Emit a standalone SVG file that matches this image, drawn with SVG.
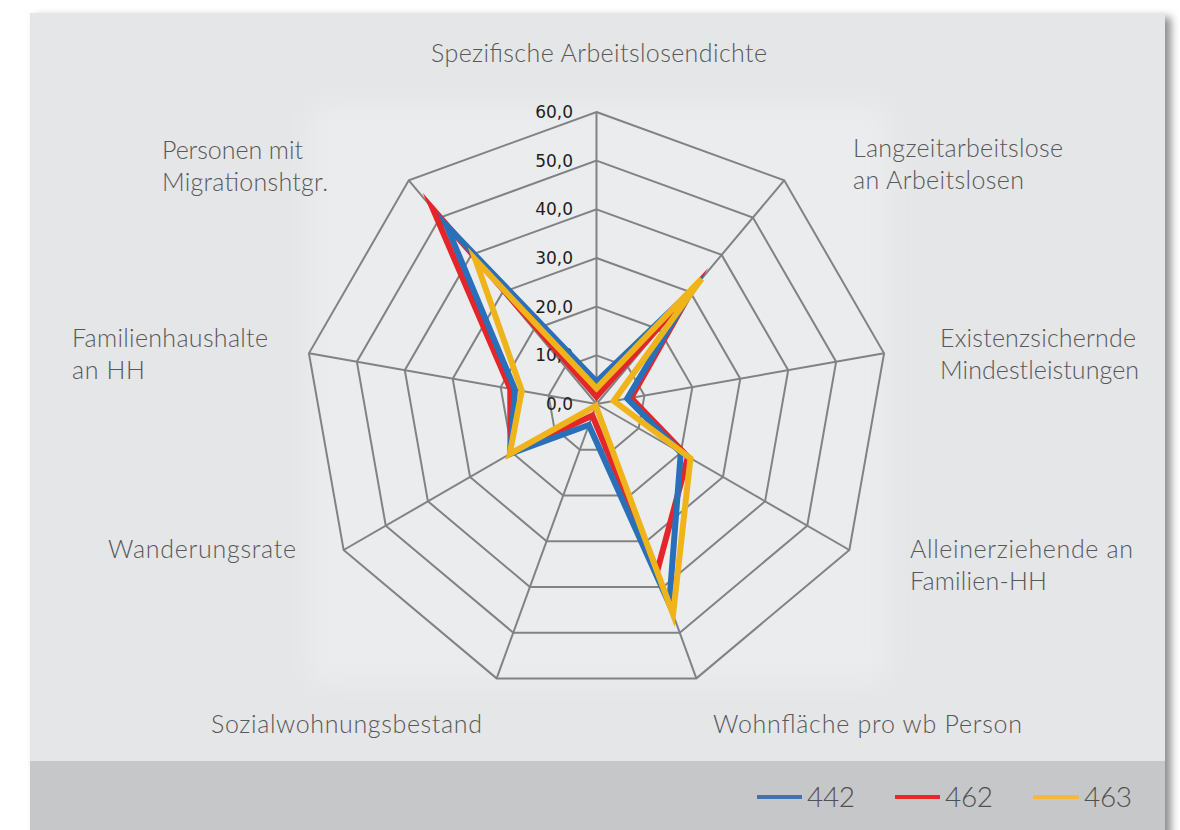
<svg xmlns="http://www.w3.org/2000/svg" width="1180" height="830" viewBox="0 0 1180 830">
<defs>
<filter id="shadow" x="-5%" y="-5%" width="115%" height="115%">
<feGaussianBlur in="SourceAlpha" stdDeviation="4"/>
<feOffset dx="6" dy="4" result="b"/>
<feComponentTransfer><feFuncA type="linear" slope="0.45"/></feComponentTransfer>
<feMerge><feMergeNode/><feMergeNode in="SourceGraphic"/></feMerge>
</filter>
<filter id="soft" x="-10%" y="-10%" width="120%" height="120%">
<feGaussianBlur stdDeviation="14"/>
</filter>
</defs>
<style>
.lbl{font-family:"Lato","Liberation Sans",sans-serif;font-weight:300;font-size:25px;fill:#585858}
.ax{font-family:"DejaVu Sans","Liberation Sans",sans-serif;font-size:17px;fill:#1e1e1e;text-anchor:end}
.ring{fill:none;stroke:#828282;stroke-width:2;stroke-linejoin:miter}
.spoke{stroke:#828282;stroke-width:2}
.ser{fill:none;stroke-width:6;stroke-linejoin:miter;stroke-miterlimit:10}
.leg{font-family:"Lato","Liberation Sans",sans-serif;font-weight:300;font-size:28px;fill:#505050}
</style>
<rect x="0" y="0" width="1180" height="830" fill="#ffffff"/>
<g id="panel">
<rect x="30" y="13" width="1135" height="830" fill="#e5e6e8" filter="url(#shadow)"/>
<rect x="310" y="105" width="578" height="578" fill="#eaecee" filter="url(#soft)"/>
<rect x="30" y="761" width="1135" height="69" fill="#c6c7c9"/>
</g>
<g id="grid" transform="translate(596.5,404)">
<polygon class="ring" points="0,-48.67 31.28,-37.28 47.93,-8.45 42.15,24.33 16.64,45.73 -16.64,45.73 -42.15,24.33 -47.93,-8.45 -31.28,-37.28"/>
<polygon class="ring" points="0,-97.33 62.57,-74.56 95.85,-16.90 84.29,48.67 33.29,91.46 -33.29,91.46 -84.29,48.67 -95.85,-16.90 -62.57,-74.56"/>
<polygon class="ring" points="0,-146 93.85,-111.84 143.78,-25.35 126.44,73 49.93,137.20 -49.93,137.20 -126.44,73 -143.78,-25.35 -93.85,-111.84"/>
<polygon class="ring" points="0,-194.67 125.13,-149.12 191.71,-33.79 168.58,97.33 66.58,182.93 -66.58,182.93 -168.58,97.33 -191.71,-33.79 -125.13,-149.12"/>
<polygon class="ring" points="0,-243.33 156.42,-186.39 239.63,-42.24 210.73,121.67 83.22,228.66 -83.22,228.66 -210.73,121.67 -239.63,-42.24 -156.42,-186.39"/>
<polygon class="ring" points="0,-292 187.70,-223.67 287.56,-50.69 252.87,146 99.86,274.39 -99.86,274.39 -252.87,146 -287.56,-50.69 -187.70,-223.67"/>
<g class="spoke">
<line x1="0" y1="0" x2="0" y2="-292"/>
<line x1="0" y1="0" x2="187.70" y2="-223.67"/>
<line x1="0" y1="0" x2="287.56" y2="-50.69"/>
<line x1="0" y1="0" x2="252.87" y2="146"/>
<line x1="0" y1="0" x2="99.86" y2="274.39"/>
<line x1="0" y1="0" x2="-99.86" y2="274.39"/>
<line x1="0" y1="0" x2="-252.87" y2="146"/>
<line x1="0" y1="0" x2="-287.56" y2="-50.69"/>
<line x1="0" y1="0" x2="-187.70" y2="-223.67"/>
</g>
</g>
<g id="axis-labels">
<text class="ax" x="573" y="410">0,0</text>
<text class="ax" x="573" y="361.3">10,0</text>
<text class="ax" x="573" y="312.7">20,0</text>
<text class="ax" x="573" y="264">30,0</text>
<text class="ax" x="573" y="215.3">40,0</text>
<text class="ax" x="573" y="166.7">50,0</text>
<text class="ax" x="573" y="118">60,0</text>
</g>
<g id="series" transform="translate(596.5,404)">
<polygon id="s462" class="ser" stroke="#e4262a" stroke-miterlimit="2" points="0,-7.30 95.4,-113.7 34.50,-6.08 91.46,52.81 60.75,166.92 -4.16,11.44 -85.98,49.64 -86.27,-15.21 -163.5,-194.8"/>
<polygon id="s442" class="ser" stroke="#2a6fba" points="0,-22.39 95.4,-113.7 30.68,-5.41 84.29,48.67 72.73,199.85 -7.66,21.04 -86.40,49.89 -81.47,-14.36 -150.16,-178.94"/>
<polygon id="s463" class="ser" stroke="#efb41c" points="0,-15.57 105.11,-125.26 17.25,-3.04 93.99,54.27 76.56,210.37 -0.67,1.83 -86.82,50.13 -74.77,-13.18 -121.06,-144.27"/>
</g>
<g id="category-labels">
<text class="lbl" x="431" y="62" textLength="336">Spezifische Arbeitslosendichte</text>
<text class="lbl" x="853" y="157" textLength="210">Langzeitarbeitslose</text>
<text class="lbl" x="853" y="189" textLength="171">an Arbeitslosen</text>
<text class="lbl" x="940" y="347" textLength="196">Existenzsichernde</text>
<text class="lbl" x="940" y="379" textLength="199">Mindestleistungen</text>
<text class="lbl" x="910" y="558" textLength="223">Alleinerziehende an</text>
<text class="lbl" x="910" y="590" textLength="137">Familien-HH</text>
<text class="lbl" x="713" y="733" textLength="309">Wohnfläche pro wb Person</text>
<text class="lbl" x="211" y="733" textLength="271">Sozialwohnungsbestand</text>
<text class="lbl" x="108" y="558" textLength="188">Wanderungsrate</text>
<text class="lbl" x="72" y="347" textLength="196">Familienhaushalte</text>
<text class="lbl" x="72" y="379" textLength="73">an HH</text>
<text class="lbl" x="162" y="159" textLength="141">Personen mit</text>
<text class="lbl" x="162" y="191" textLength="166">Migrationshtgr.</text>
</g>
<g id="legend">
<line x1="757" y1="797" x2="802" y2="797" stroke="#4a70aa" stroke-width="4"/>
<text class="leg" x="807" y="807" textLength="48">442</text>
<line x1="895" y1="797" x2="940" y2="797" stroke="#ec262b" stroke-width="4"/>
<text class="leg" x="945" y="807" textLength="48">462</text>
<line x1="1033" y1="797" x2="1079" y2="797" stroke="#f0bb38" stroke-width="4"/>
<text class="leg" x="1084" y="807" textLength="48">463</text>
</g>
</svg>
